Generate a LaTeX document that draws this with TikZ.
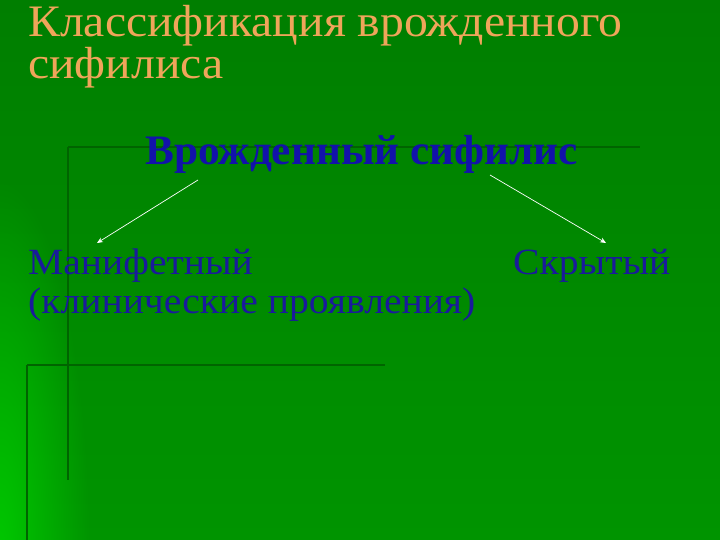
\documentclass[tikz,border=0pt]{standalone}
\usepackage{fontspec}
\setmainfont{Liberation Serif}
\usetikzlibrary{fadings,arrows.meta}
\definecolor{bgtop}{HTML}{007E00}
\definecolor{bgbot}{HTML}{009400}
\definecolor{bgleft}{HTML}{00C800}
\definecolor{deco}{HTML}{006400}
\definecolor{titleor}{HTML}{EFA55A}
\definecolor{headblue}{HTML}{1212AA}
\definecolor{txtblue}{HTML}{1A1A9C}
\tikzfading[name=cornerfade, inner color=transparent!0, outer color=transparent!100]
\tikzset{
  decoline/.style={draw=deco,line width=2.2pt},
  titletext/.style={anchor=base west,inner sep=0pt,text=titleor,xscale=1.06,font=\fontsize{45}{45}\selectfont},
  headtext/.style={anchor=base west,inner sep=0pt,text=headblue,xscale=1.03,font=\bfseries\fontsize{42}{42}\selectfont},
  bodytext/.style={anchor=base west,inner sep=0pt,text=txtblue,xscale=1.07,font=\fontsize{37}{37}\selectfont},
  arr/.style={draw=white,line width=0.7pt,-{Stealth[length=6pt,width=5pt]}}
}
\begin{document}
\begin{tikzpicture}[x=1pt,y=-1pt]
\useasboundingbox (0,0) rectangle (720,540);
\shade[top color=bgtop,bottom color=bgbot] (0,0) rectangle (720,540);
\fill[bgleft,path fading=cornerfade] (0,560) ellipse (90 and 380);
% decorative lines
\draw[decoline] (68,147) -- (640,147);
\draw[decoline] (68,147) -- (68,480);
\draw[decoline] (27,365) -- (385,365);
\draw[decoline] (27,365) -- (27,540);
% texts
\node[titletext] (t1) at (28,37) {Классификация врожденного};
\node[titletext] (t2) at (28,79) {сифилиса};
\node[headtext] (h) at (145,165) {Врожденный сифилис};
\node[bodytext] (m1) at (28,274) {Манифетный};
\node[bodytext] (m2) at (28,313) {(клинические проявления)};
\node[bodytext] (s) at (513,274) {Скрытый};
\coordinate (a1s) at (198,180);
\coordinate (a1e) at (97,243);
\coordinate (a2s) at (490,175);
\coordinate (a2e) at (606,243);
\draw[arr] (a1s) -- (a1e);
\draw[arr] (a2s) -- (a2e);
\end{tikzpicture}
\end{document}
